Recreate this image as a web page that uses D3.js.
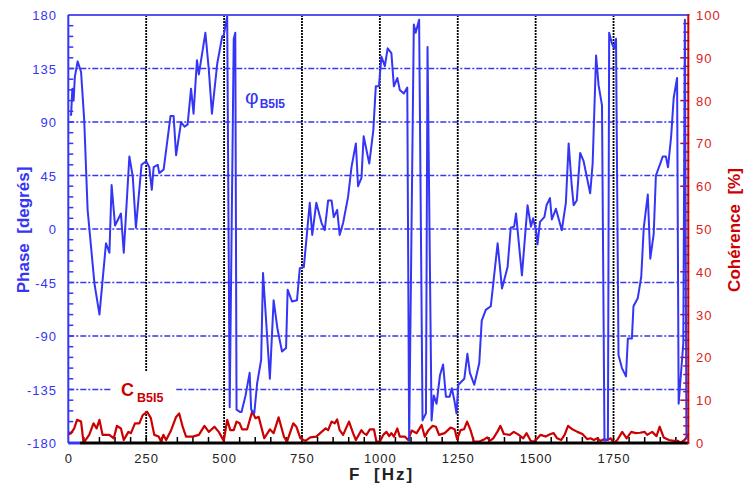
<!DOCTYPE html>
<html><head><meta charset="utf-8">
<script src="https://cdn.jsdelivr.net/npm/d3@7"></script>
<style>
html,body{margin:0;padding:0;background:#fff;}
svg{display:block;font-family:"Liberation Sans",Arial,sans-serif;}
</style></head>
<body><svg id="c" width="746" height="484"></svg>
<script>
// ---- data ----
const phaseFreq = [5,9,13,17,21,30,41,51,62,84,100,121,132,139,150,169,178,196,207,217,235,250,260,268,274,287,292,306,328,338,346,362,373,383,394,402,413,419,440,451,461,478,494,499,510,518,531,536,540,552,556,569,582,587,597,606,619,625,647,659,672,686,699,704,718,734,743,756,761,775,783,796,813,823,834,845,852,863,871,882,898,909,923,930,941,948,966,979,987,997,1005,1016,1025,1037,1045,1056,1064,1077,1088,1094,1109,1115,1126,1137,1148,1153,1166,1173,1182,1193,1203,1212,1224,1231,1239,1246,1252,1271,1281,1289,1303,1319,1327,1340,1356,1364,1378,1392,1410,1420,1431,1437,1456,1474,1485,1492,1501,1506,1514,1528,1535,1546,1552,1565,1584,1597,1606,1616,1622,1632,1643,1654,1675,1683,1694,1702,1713,1721,1732,1736,1745,1752,1758,1766,1777,1790,1796,1809,1814,1828,1839,1847,1860,1868,1879,1886,1900,1908,1918,1925,1935,1943,1954,1959,1974,1979,1984];
const phaseDeg = [96,96,118,108,128,141,132,92,16,-46,-72,-12,-20,37,3,13,-20,61,44,1,54,57,52,33,52,54,47,50,95,95,62,90,86,88,118,97,142,130,165,134,97,139,162,163,179,-150,160,165,-152,-154,-154,-140,-121,-152,-155,-130,-110,-37,-126,-60,-85,-103,-100,-51,-61,-60,-33,-32,-18,22,-5,22,5,-1,24,24,10,16,-5,5,27,52,72,36,43,78,55,83,120,120,145,137,152,148,120,127,117,114,119,-178,172,165,176,-161,-155,153,-161,-140,-147,-123,-114,-141,-141,-134,-144,-155,-131,-126,-105,-121,-131,-113,-77,-68,-65,-46,-12,-50,-32,1,2,13,-39,20,2,9,-1,-13,6,10,20,26,8,17,-1,22,72,36,20,24,64,57,30,55,146,121,104,-178,-177,165,156,152,160,-106,-117,-124,-92,-92,-65,-58,-40,1,29,-25,-4,45,55,61,61,52,78,110,127,-147,-96,176,-177];
const cohFreq = [0,9,19,28,41,49,67,81,91,100,110,132,146,156,169,178,193,201,214,228,239,253,265,276,290,298,305,314,330,346,356,367,378,399,419,437,451,469,483,499,510,520,531,540,550,558,574,590,601,611,629,647,659,675,692,702,722,732,745,761,777,796,813,826,834,845,855,863,871,882,901,914,923,941,948,957,968,981,989,1000,1011,1021,1030,1037,1045,1056,1064,1080,1091,1102,1118,1134,1144,1155,1169,1180,1190,1208,1227,1240,1248,1259,1270,1280,1291,1302,1318,1336,1345,1353,1364,1377,1387,1398,1417,1430,1446,1460,1471,1484,1494,1503,1516,1532,1548,1558,1569,1582,1593,1604,1618,1634,1650,1666,1676,1687,1698,1708,1719,1730,1741,1751,1762,1778,1792,1807,1821,1835,1850,1858,1874,1888,1898,1911,1928,1944,1957,1965,1978,1990];
const cohPct = [2,2.3,3.4,5.4,5,0,1.9,4.6,3.4,5.4,1.9,1.9,1.1,4,3.4,0.7,2.6,2.3,4.6,4.6,6.5,7.3,5.8,1.9,1.5,0.3,1.9,0.7,3,6.1,6.9,3.8,1.5,1.5,1.9,4,2.6,3.8,2.6,0.5,5.4,3,3,5,4.6,3.2,3.2,7.3,5.8,6.1,1.1,3.2,2.3,6,1.5,0.3,4.6,3.8,1.1,0.5,1.3,1.5,2.6,3.4,3,5,4.6,5.5,3,1.9,5,2.3,0.7,3,2.3,1.9,3.2,3.2,0.3,0.3,1.9,2.6,1.6,2.3,1.5,3.4,1.5,1.5,0.7,2.9,2.3,4.2,1.5,2.9,4,3.8,1.9,2.3,3.6,3.2,0.9,3,3.2,5,3,0.3,0.3,0.9,1.3,0.5,1.1,2.6,4,2.1,1.9,2.6,1.9,1.1,2.3,0.5,0.3,0.9,1.9,1.5,2.1,2.3,1.1,0.7,1.9,4,3.2,2.6,2.1,0.9,1.1,0.7,1.1,0.5,0.9,0.7,1.1,0,0.7,2.6,1.1,2.6,2.3,2.4,2.6,1.9,2.6,1.6,3.8,1.3,0.7,0.5,0.5,0,0.7,1.9];
const freqTicks = [0,250,500,750,1000,1250,1500,1750];
const phaseTicks = [-180,-135,-90,-45,0,45,90,135,180];
const cohTicks = [0,10,20,30,40,50,60,70,80,90,100];

// ---- layout ----
const svg = d3.select("#c");
const L = 68.3, R = 688.3, T = 15, B = 443;
const x = d3.scaleLinear().domain([0,1990]).range([L,R]);
const yP = d3.scaleLinear().domain([-180,180]).range([B,T]);
const yC = d3.scaleLinear().domain([0,100]).range([B,T]);
const BLUE = "#3535f5", RED = "#cc0000";

// horizontal grid (blue dash-dot)
svg.append("g").selectAll("line").data(phaseTicks.filter(d=>d>-180&&d<180)).join("line")
  .attr("x1",L).attr("x2",R).attr("y1",d=>yP(d)).attr("y2",d=>yP(d))
  .attr("stroke",BLUE).attr("stroke-width",1.7).attr("stroke-dasharray","6,2,2,2");
// vertical grid (black dotted)
svg.append("g").selectAll("line").data(freqTicks.filter(d=>d>0)).join("line")
  .attr("x1",d=>x(d)).attr("x2",d=>x(d)).attr("y1",T).attr("y2",B)
  .attr("stroke","#000").attr("stroke-width",1.8).attr("stroke-dasharray","2,1");

// label box for C
svg.append("rect").attr("x",112).attr("y",372).attr("width",64).attr("height",39).attr("fill","#fff");

// left axis minor ticks
const pMinor = d3.range(-180,181,9);
svg.append("g").selectAll("line").data(pMinor).join("line")
  .attr("x1",L).attr("x2",L+5).attr("y1",d=>yP(d)).attr("y2",d=>yP(d))
  .attr("stroke",BLUE).attr("stroke-width",1.5);
// bottom ticks
svg.append("g").selectAll("line").data(d3.range(50,1990,50)).join("line")
  .attr("x1",d=>x(d)).attr("x2",d=>x(d)).attr("y1",B).attr("y2",B-6)
  .attr("stroke","#000").attr("stroke-width",1.5);
// right ticks
svg.append("g").selectAll("line").data(d3.range(0,101,2)).join("line")
  .attr("x1",d=> R - (d%10===0?8:5)).attr("x2",R+1).attr("y1",d=>yC(d)).attr("y2",d=>yC(d))
  .attr("stroke",RED).attr("stroke-width",1.5);

// data lines
svg.append("path").datum(cohFreq.map((f,i)=>[f,cohPct[i]]))
  .attr("d",d3.line().x(d=>x(d[0])).y(d=>yC(d[1])))
  .attr("fill","none").attr("stroke",RED).attr("stroke-width",2.2).attr("stroke-linejoin","round");
svg.append("path").datum(phaseFreq.map((f,i)=>[f,phaseDeg[i]]))
  .attr("d",d3.line().x(d=>x(d[0])).y(d=>yP(d[1])))
  .attr("fill","none").attr("stroke",BLUE).attr("stroke-width",2).attr("stroke-linejoin","round");

// frame
svg.append("line").attr("x1",L).attr("x2",R).attr("y1",T).attr("y2",T).attr("stroke","#5555ee").attr("stroke-width",2);
svg.append("line").attr("x1",L).attr("x2",L).attr("y1",T).attr("y2",B).attr("stroke",BLUE).attr("stroke-width",2);
svg.append("line").attr("x1",L).attr("x2",80).attr("y1",B).attr("y2",B).attr("stroke",BLUE).attr("stroke-width",3);
svg.append("line").attr("x1",80).attr("x2",R).attr("y1",B).attr("y2",B).attr("stroke","#000").attr("stroke-width",3);
svg.append("line").attr("x1",R).attr("x2",R).attr("y1",T-1).attr("y2",B+1).attr("stroke",RED).attr("stroke-width",2);

// tick labels
svg.append("g").selectAll("text").data(phaseTicks).join("text")
  .attr("x",57).attr("y",d=>yP(d)+5).attr("text-anchor","end")
  .attr("font-size",13).attr("letter-spacing",1).attr("fill",BLUE).text(d=>d);
svg.append("g").selectAll("text").data(cohTicks).join("text")
  .attr("x",696).attr("y",d=>yC(d)+5).attr("text-anchor","start")
  .attr("font-size",13).attr("letter-spacing",1).attr("fill","#dd2020").text(d=>d);
svg.append("g").selectAll("text").data(freqTicks).join("text")
  .attr("x",d=>x(d)+0.5).attr("y",463).attr("text-anchor","middle")
  .attr("font-size",13).attr("letter-spacing",1).attr("fill","#222").text(d=>d);

// axis titles
svg.append("text").attr("x",349).attr("y",480).attr("font-size",17).attr("font-weight","bold").attr("fill","#222").text("F");
svg.append("text").attr("x",374).attr("y",480).attr("font-size",17).attr("font-weight","bold").attr("fill","#222")
  .attr("letter-spacing",2).text("[Hz]");
svg.append("text").attr("transform","translate(29,230) rotate(-90)").attr("text-anchor","middle")
  .attr("font-size",17).attr("font-weight","bold").attr("fill",BLUE).style("white-space","pre").text("Phase  [degrés]");
svg.append("text").attr("transform","translate(740,230) rotate(-90)").attr("text-anchor","middle")
  .attr("font-size",17).attr("font-weight","bold").attr("fill",RED).style("white-space","pre").text("Cohérence  [%]");

// series labels
const phi = svg.append("text").attr("x",245).attr("y",104).attr("fill",BLUE);
phi.append("tspan").attr("font-size",21).text("φ");
phi.append("tspan").attr("font-size",12).attr("font-weight","bold").attr("dx",1).attr("dy",4).text("B5I5");
const cl = svg.append("text").attr("x",121).attr("y",396).attr("fill",RED);
cl.append("tspan").attr("font-size",18).attr("font-weight","bold").text("C");
cl.append("tspan").attr("font-size",12.5).attr("font-weight","bold").attr("dx",3).attr("dy",6).text("B5I5");
</script></body></html>
